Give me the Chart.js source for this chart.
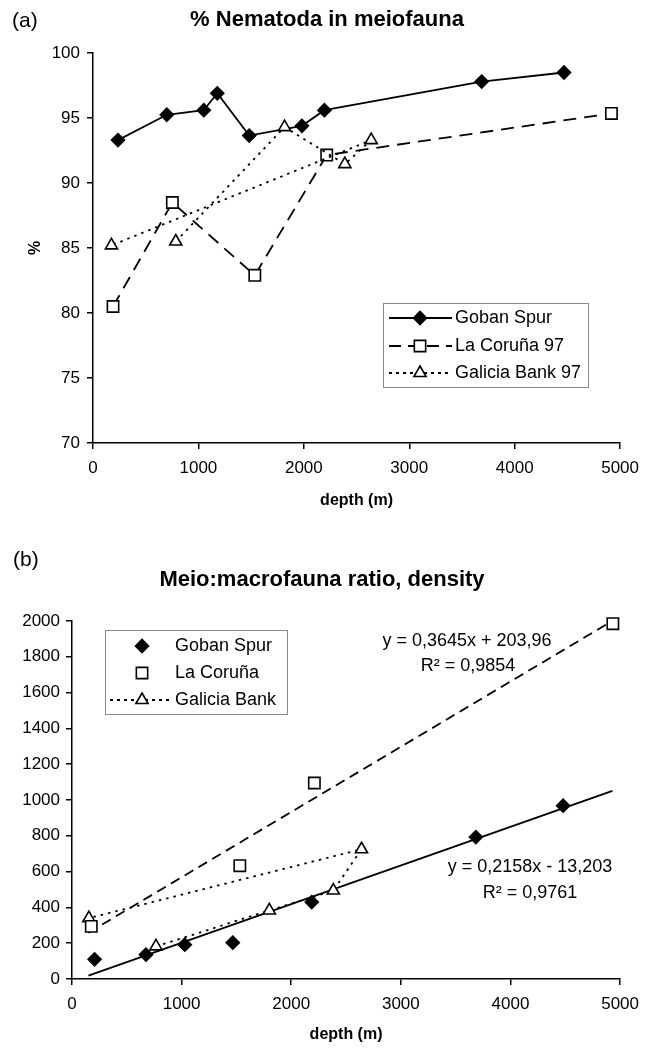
<!DOCTYPE html>
<html>
<head>
<meta charset="utf-8">
<script src="https://cdn.jsdelivr.net/npm/chart.js@4.4.0/dist/chart.umd.min.js"></script>
<style>
  html, body { margin: 0; padding: 0; background: #fff; }
  #wrap { position: relative; width: 648px; height: 1052px; }
  canvas { position: absolute; left: 0; display: block; }
  #chartA { top: 0; }
  #chartB { top: 520px; }
</style>
</head>
<body>
<div id="wrap">
  <canvas id="chartA" width="648" height="520"></canvas>
  <canvas id="chartB" width="648" height="532"></canvas>
</div>
<script>
// ---- (a) % Nematoda in meiofauna ----
var GOBAN_DEPTH_A = [237, 700, 1051, 1179, 1482, 1982, 2195, 3687, 4468];
var GOBAN_PCT_A = [93.3, 95.25, 95.6, 96.9, 93.65, 94.4, 95.6, 97.8, 98.5];
var CORUNA_DEPTH_A = [190, 753, 1535, 2217, 4918];
var CORUNA_PCT_A = [80.5, 88.5, 82.9, 92.15, 95.35];
// Galicia stations are joined in sampling order, not by depth
var GALICIA_DEPTH_A = [785, 1817, 2389, 2639, 175];
var GALICIA_PCT_A = [85.5, 94.3, 91.45, 93.3, 85.2];
var Y_TICKS_A = [70, 75, 80, 85, 90, 95, 100];

// ---- (b) meio:macrofauna density ratio ----
var GOBAN_DEPTH_B = [206, 675, 1029, 1467, 2187, 3684, 4480];
var GOBAN_RATIO_B = [110, 136, 192, 203, 430, 793, 968];
var CORUNA_DEPTH_B = [176, 1531, 2211, 4934];
var CORUNA_RATIO_B = [294, 633, 1095, 1985];
var GALICIA_DEPTH_B = [766, 1800, 2384, 2641, 154];
var GALICIA_RATIO_B = [182, 383, 494, 725, 340];
var Y_TICKS_B = [0, 200, 400, 600, 800, 1000, 1200, 1400, 1600, 1800, 2000];

// linear fits printed on panel (b)
var GOBAN_FIT = { slope: 0.2158, intercept: -13.203, r2: '0,9761' };
var CORUNA_FIT = { slope: 0.3645, intercept: 203.96, r2: '0,9854' };
var FIT_DEPTH = [150, 4930];

var X_TICKS = [0, 1000, 2000, 3000, 4000, 5000];

var FONT = '"Liberation Sans", Arial, Helvetica, sans-serif';
Chart.defaults.font.family = FONT;
Chart.defaults.color = '#000';

function pts(xs, ys) {
    return xs.map(function (x, i) { return { x: x, y: ys[i] }; });
}

function fitLine(fit) {
    return FIT_DEPTH.map(function (x) { return { x: x, y: fit.slope * x + fit.intercept }; });
}

function fmtFit(fit) {
    var a = String(fit.slope).replace('.', ',');
    var b = String(Math.abs(fit.intercept)).replace('.', ',');
    return 'y = ' + a + 'x ' + (fit.intercept < 0 ? '- ' : '+ ') + b;
}

function series(label, data, style, opts) {
    var ds = {
        label: label,
        data: data,
        showLine: true,
        clip: false,
        borderColor: '#000',
        borderWidth: 1.8,
        borderDash: [],
        pointStyle: style,
        pointRadius: 6.5,
        pointBorderColor: '#000',
        pointBorderWidth: 1.6,
        pointBackgroundColor: style === 'rectRot' ? '#000' : '#fff',
        tension: 0
    };
    Object.keys(opts || {}).forEach(function (k) { ds[k] = opts[k]; });
    return ds;
}

function axes(yTicks, yTitle, yWidth, xHeight, xTitlePad, yPad) {
    return {
        x: {
            type: 'linear',
            min: X_TICKS[0], max: X_TICKS[X_TICKS.length - 1],
            ticks: {
                stepSize: X_TICKS[1] - X_TICKS[0], padding: 9, maxRotation: 0,
                font: { size: 17 }, color: '#000',
                callback: function (v) { return String(v); }
            },
            grid: { drawOnChartArea: false, color: '#000', lineWidth: 1.5, tickLength: 6 },
            border: { color: '#000', width: 1.5 },
            title: {
                display: true, text: 'depth (m)', color: '#000',
                font: { size: 16, weight: 'bold' },
                padding: { top: 0, bottom: xTitlePad }
            },
            afterFit: function (s) { s.height = xHeight; }
        },
        y: {
            type: 'linear',
            min: yTicks[0], max: yTicks[yTicks.length - 1],
            ticks: {
                stepSize: yTicks[1] - yTicks[0], padding: yPad,
                font: { size: 17 }, color: '#000',
                callback: function (v) { return String(v); }
            },
            grid: { drawOnChartArea: false, color: '#000', lineWidth: 1.5, tickLength: 6 },
            border: { color: '#000', width: 1.5 },
            title: {
                display: !!yTitle, text: yTitle, color: '#000',
                font: { size: 16, weight: 'bold' },
                padding: { top: 26, bottom: 0 }
            },
            afterFit: function (s) { s.width = yWidth; }
        }
    };
}

// free text: panel letter, title, fit equations
var panelText = {
    id: 'panelText',
    afterDraw: function (chart, args, opts) {
        var ctx = chart.ctx;
        ctx.save();
        ctx.fillStyle = '#000';
        ctx.textBaseline = 'middle';
        (opts.items || []).forEach(function (t) {
            ctx.font = t.font;
            ctx.textAlign = t.align || 'left';
            ctx.fillText(t.text, t.x, t.y);
        });
        ctx.restore();
    }
};

// boxed legend with a line sample through the marker
var boxLegend = {
    id: 'boxLegend',
    afterDatasetsDraw: function (chart, args, o) {
        if (!o.rows) return;
        var ctx = chart.ctx;
        ctx.save();
        ctx.fillStyle = '#fff';
        ctx.fillRect(o.x, o.y, o.w, o.h);
        ctx.strokeStyle = '#888';
        ctx.lineWidth = 1;
        ctx.strokeRect(o.x + 0.5, o.y + 0.5, o.w, o.h);
        ctx.font = '18px ' + FONT;
        ctx.textBaseline = 'middle';
        ctx.textAlign = 'left';
        o.rows.forEach(function (idx, i) {
            var ds = chart.data.datasets[idx];
            var y = o.rowY[i];
            if (ds.legendLine !== false) {
                ctx.beginPath();
                ctx.setLineDash(ds.legendDash || ds.borderDash || []);
                ctx.strokeStyle = ds.borderColor;
                ctx.lineWidth = ds.borderWidth;
                ctx.moveTo(o.lineX[0], y);
                ctx.lineTo(o.lineX[1], y);
                ctx.stroke();
                ctx.setLineDash([]);
            }
            ctx.fillStyle = ds.pointBackgroundColor;
            ctx.strokeStyle = ds.pointBorderColor;
            ctx.lineWidth = ds.pointBorderWidth;
            Chart.helpers.drawPoint(ctx, {
                pointStyle: ds.pointStyle, radius: ds.pointRadius,
                rotation: 0, borderWidth: ds.pointBorderWidth
            }, o.markX, y);
            ctx.fillStyle = '#000';
            ctx.fillText(ds.label, o.textX, y);
        });
        ctx.restore();
    }
};

new Chart(document.getElementById('chartA'), {
    type: 'scatter',
    data: {
        datasets: [
            series('Galicia Bank 97', pts(GALICIA_DEPTH_A, GALICIA_PCT_A), 'triangle',
                { borderDash: [2.5, 5], pointRadius: 7, legendDash: [3, 4] }),
            series('La Coruña 97', pts(CORUNA_DEPTH_A, CORUNA_PCT_A), 'rect',
                { borderDash: [13, 8], pointRadius: 8, legendDash: [12, 7] }),
            series('Goban Spur', pts(GOBAN_DEPTH_A, GOBAN_PCT_A), 'rectRot')
        ]
    },
    options: {
        responsive: false,
        animation: false,
        layout: { padding: { left: 0, right: 22, top: 53, bottom: 0 } },
        scales: axes(Y_TICKS_A, '%', 93, 77, 9.4, 7),
        plugins: {
            legend: { display: false },
            tooltip: { enabled: false },
            panelText: {
                items: [
                    { text: '(a)', x: 12, y: 21, font: '21px ' + FONT },
                    { text: '% Nematoda in meiofauna', x: 327, y: 20, align: 'center', font: 'bold 22px ' + FONT }
                ]
            },
            boxLegend: {
                x: 383, y: 303, w: 205, h: 84,
                rows: [2, 1, 0], rowY: [318, 346, 373],
                lineX: [389, 452], markX: 420, textX: 455
            }
        }
    },
    plugins: [panelText, boxLegend]
});

new Chart(document.getElementById('chartB'), {
    type: 'scatter',
    data: {
        datasets: [
            series('Goban Spur', pts(GOBAN_DEPTH_B, GOBAN_RATIO_B), 'rectRot',
                { showLine: false, legendLine: false }),
            series('La Coruña', pts(CORUNA_DEPTH_B, CORUNA_RATIO_B), 'rect',
                { showLine: false, legendLine: false, pointRadius: 8 }),
            series('Galicia Bank', pts(GALICIA_DEPTH_B, GALICIA_RATIO_B), 'triangle',
                { borderDash: [2.5, 5], pointRadius: 7, legendDash: [3, 4] }),
            series('Goban fit', fitLine(GOBAN_FIT), 'circle', { pointRadius: 0 }),
            series('La Coruña fit', fitLine(CORUNA_FIT), 'circle', { pointRadius: 0, borderDash: [10, 6] })
        ]
    },
    options: {
        responsive: false,
        animation: false,
        layout: { padding: { left: 0, right: 25, top: 101, bottom: 0 } },
        scales: axes(Y_TICKS_B, '', 72, 73, 7.4, 6),
        plugins: {
            legend: { display: false },
            tooltip: { enabled: false },
            panelText: {
                items: [
                    { text: '(b)', x: 13, y: 40, font: '21px ' + FONT },
                    { text: 'Meio:macrofauna ratio, density', x: 322, y: 60, align: 'center', font: 'bold 22px ' + FONT },
                    { text: fmtFit(CORUNA_FIT), x: 467, y: 121, align: 'center', font: '18px ' + FONT },
                    { text: 'R² = ' + CORUNA_FIT.r2, x: 468, y: 146, align: 'center', font: '18px ' + FONT },
                    { text: fmtFit(GOBAN_FIT), x: 530, y: 347, align: 'center', font: '18px ' + FONT },
                    { text: 'R² = ' + GOBAN_FIT.r2, x: 530, y: 373, align: 'center', font: '18px ' + FONT }
                ]
            },
            boxLegend: {
                x: 105, y: 110, w: 182, h: 84,
                rows: [0, 1, 2], rowY: [126, 153, 180],
                lineX: [110, 173], markX: 142, textX: 175
            }
        }
    },
    plugins: [panelText, boxLegend]
});
</script>
</body>
</html>
